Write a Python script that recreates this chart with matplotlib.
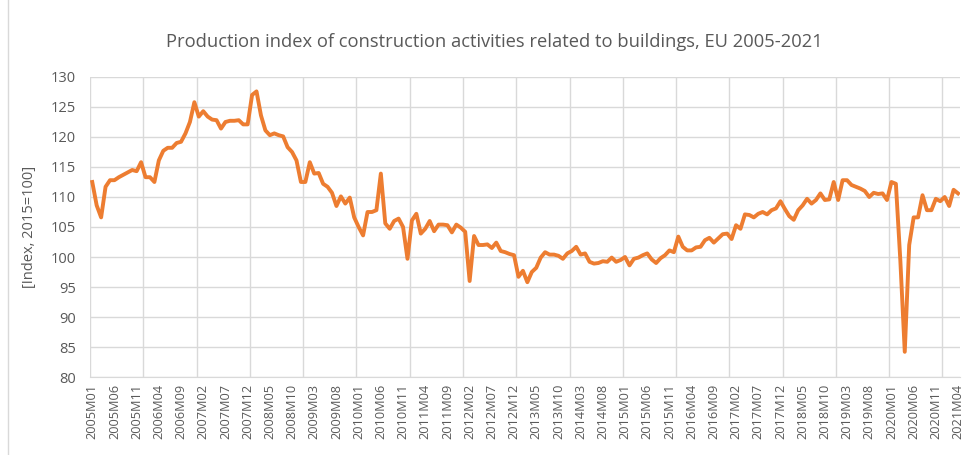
import numpy as np
import matplotlib
matplotlib.use("Agg")
import matplotlib.pyplot as plt
from matplotlib.lines import Line2D

# monthly index values 2005M01 .. 2021M04
values = [
    # 2005
    112.5, 108.6, 106.6, 111.7, 112.8, 112.8, 113.3, 113.7, 114.1, 114.5, 114.3, 115.8,
    # 2006
    113.3, 113.3, 112.5, 116.1, 117.7, 118.2, 118.2, 119.0, 119.2, 120.6, 122.5, 125.8,
    # 2007
    123.4, 124.3, 123.4, 122.9, 122.8, 121.4, 122.5, 122.7, 122.7, 122.8, 122.1, 122.1,
    # 2008
    127.0, 127.6, 123.6, 121.1, 120.3, 120.6, 120.3, 120.1, 118.3, 117.5, 116.1, 112.5,
    # 2009
    112.5, 115.8, 113.9, 114.0, 112.2, 111.7, 110.7, 108.5, 110.1, 108.9, 109.9, 106.6,
    # 2010
    105.0, 103.6, 107.5, 107.5, 107.8, 113.9, 105.6, 104.7, 106.0, 106.4, 105.0, 99.7,
    # 2011
    106.1, 107.2, 103.9, 104.7, 106.0, 104.3, 105.4, 105.4, 105.3, 104.1, 105.4, 104.9,
    # 2012
    104.2, 96.0, 103.5, 102.0, 102.0, 102.1, 101.5, 102.4, 101.0, 100.8, 100.5, 100.3,
    # 2013
    96.7, 97.7, 95.8, 97.5, 98.2, 99.9, 100.8, 100.4, 100.4, 100.2, 99.7, 100.6,
    # 2014
    101.0, 101.7, 100.4, 100.6, 99.2, 98.9, 99.0, 99.3, 99.2, 99.9, 99.2, 99.5,
    # 2015
    100.0, 98.6, 99.7, 99.9, 100.3, 100.6, 99.6, 99.0, 99.8, 100.3, 101.1, 100.8,
    # 2016
    103.4, 101.7, 101.1, 101.1, 101.6, 101.7, 102.8, 103.2, 102.4, 103.1, 103.8, 103.9,
    # 2017
    103.0, 105.3, 104.7, 107.1, 107.0, 106.6, 107.2, 107.5, 107.1, 107.8, 108.1, 109.3,
    # 2018
    108.0, 106.8, 106.2, 107.8, 108.6, 109.7, 108.9, 109.5, 110.6, 109.5, 109.6, 112.5,
    # 2019
    109.5, 112.8, 112.8, 112.0, 111.7, 111.4, 111.0, 110.0, 110.7, 110.5, 110.6, 109.5,
    # 2020
    112.5, 112.2, 99.5, 84.2, 102.0, 106.6, 106.6, 110.3, 107.8, 107.8, 109.7, 109.3,
    # 2021
    110.0, 108.5, 111.2, 110.6,
]

start_year = 2005
periods = [f"{start_year + i // 12}M{i % 12 + 1:02d}" for i in range(len(values))]

title = "Production index of construction activities related to buildings, EU 2005-2021"
ylabel = "[Index, 2015=100]"

plt.rcParams["font.family"] = ["Open Sans", "DejaVu Sans"]
text_color = "#595959"
grid_color = "#d9d9d9"

fig = plt.figure(figsize=(9.68, 4.55), dpi=100)
ax = fig.add_axes([0.093, 0.1714, 0.899, 0.6594])

x = np.arange(len(values))
ax.plot(x, values, color="#ED7D31", linewidth=2.8, solid_joinstyle="round")

ax.set_xlim(-0.5, len(values) - 0.5)
ax.set_ylim(80, 130)
ax.set_yticks(np.arange(80, 131, 5))

# labels every 5 months, gridlines at year boundaries
ax.set_xticks(x[::5])
ax.set_xticklabels(periods[::5], rotation=90)
ax.set_xticks(np.arange(-0.5, len(values), 12), minor=True)
ax.grid(True, which="minor", axis="x", color=grid_color, linewidth=1)
ax.grid(True, which="major", axis="y", color=grid_color, linewidth=1)
ax.set_axisbelow(True)

for s in ["top", "right", "left"]:
    ax.spines[s].set_visible(False)
ax.spines["bottom"].set_color(grid_color)

ax.tick_params(axis="both", which="both", length=0, colors=text_color)
ax.tick_params(axis="x", labelsize=9.2, pad=5)
ax.tick_params(axis="y", labelsize=10.5, pad=10)

ax.set_ylabel(ylabel, color=text_color, fontsize=10.5, labelpad=10)
fig.text(0.511, 0.908, title, ha="center", va="center", color=text_color, fontsize=13.2)

# chart-area border on the left edge
fig.add_artist(Line2D([8 / 968, 8 / 968], [0, 1], transform=fig.transFigure,
                      color=grid_color, linewidth=1))

fig.savefig("out.png", dpi=100)
